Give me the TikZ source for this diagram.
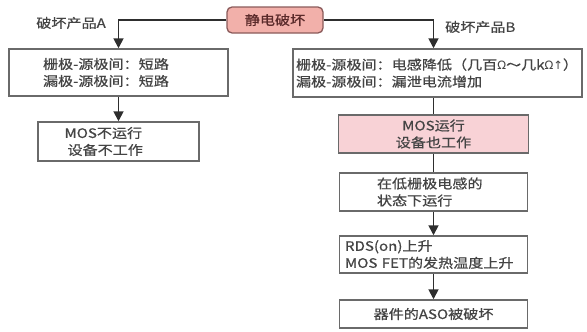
\documentclass[tikz,border=0pt]{standalone}
\usepackage{fontspec}
\newfontfamily\cjk{Noto Sans CJK SC}[FakeStretch=1.16,FakeBold=0.6]
\newfontfamily\symf{DejaVu Sans}
\newcommand{\nsym}[1]{{\symf\fontsize{11.5}{17}\selectfont #1}}
\usetikzlibrary{arrows.meta}
\definecolor{linec}{HTML}{2E2E2E}
\definecolor{boxc}{HTML}{6A6A6A}
\definecolor{txtc}{HTML}{444444}
\definecolor{toppink}{HTML}{F2B0AA}
\definecolor{topborder}{HTML}{8A5A5A}
\definecolor{toptext}{HTML}{5A2A2A}
\definecolor{softpink}{HTML}{F8D2D6}
\tikzset{
  box/.style={draw=boxc, line width=1.5pt, fill=white, inner sep=2pt,
              font=\cjk\fontsize{13}{17}\selectfont, text=txtc},
  arr/.style={draw=linec, line width=1.8pt, -{Triangle[length=10pt,width=10pt]}},
  conn/.style={draw=linec, line width=1.8pt},
  lab/.style={font=\cjk\fontsize{13}{17}\selectfont, text=txtc, inner sep=0pt}
}
\begin{document}
\begin{tikzpicture}[x=1pt,y=-1pt]
\useasboundingbox (0,0) rectangle (587,332);
% top
\node[draw=topborder, line width=1.3pt, fill=toppink, rounded corners=5pt,
      minimum width=96pt, minimum height=26pt, inner sep=0pt,
      font=\cjk\fontsize{13}{17}\selectfont, text=toptext] (top) at (275,20) {静电破坏};
% left branch
\node[box, minimum width=219pt, minimum height=47pt, text width=151pt, align=left] (L1) at (118.5,72.5)
  {栅极-源极间：短路\\漏极-源极间：短路};
\node[box, minimum width=161pt, minimum height=39pt, text width=108pt, align=left] (L2) at (118.5,141.5)
  {MOS不运行\\\hspace*{3pt}设备不工作};
% right branch
\node[box, minimum width=289pt, minimum height=48pt, text width=283pt, align=left] (R1) at (437.5,73)
  {栅极-源极间：电感降低（几百\nsym{Ω}～几k\nsym{Ω↑}）\\漏极-源极间：漏泄电流增加};
\node[box, fill=softpink, minimum width=190pt, minimum height=38pt, align=center] (R2) at (433.5,134)
  {MOS运行\\设备也工作};
\node[box, minimum width=188pt, minimum height=38pt, text width=113pt, align=left] (R3) at (433.5,192)
  {在低栅极电感的\\状态下运行};
\node[box, minimum width=188pt, minimum height=37pt, text width=177pt, align=left] (R4) at (433.5,254.5)
  {RDS(on)上升\\MOS FET的发热温度上升};
\node[box, minimum width=188pt, minimum height=28pt] (R5) at (433.5,314)
  {器件的ASO被破坏};
% labels
\node[lab, anchor=east] (labA) at (106,23) {破坏产品A};
\node[lab, anchor=west] (labB) at (445,27) {破坏产品B};
% connectors
\draw[arr] (top.west) -| (L1.north -| L2.north);
\draw[arr] (top.east) -| (R1.north -| R2.north);
\draw[arr] (L1.south -| L2.north) -- (L2.north);
\draw[conn] (R1.south -| R2.north) -- (R2.north);
\draw[conn] (R2.south) -- (R3.north);
\draw[arr] (R3.south) -- (R4.north);
\draw[arr] (R4.south) -- (R5.north);
\end{tikzpicture}
\end{document}
